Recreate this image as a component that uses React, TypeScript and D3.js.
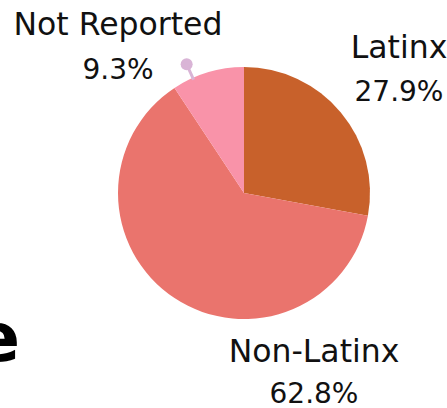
import React from "react";
import * as d3 from "d3";

const categories = ["Latinx", "Non-Latinx", "Not Reported"];
const values = [27.9, 62.8, 9.3];
const valueLabels = ["27.9%", "62.8%", "9.3%"];
const colors = ["#C8612B", "#EA746D", "#F993A9"];

const W = 447;
const H = 408;
const cx = 244;
const cy = 193;
const R = 126;

// label anchor positions (center x, baseline y of first line, baseline y of second line)
const labelPos: [number, number, number][] = [
  [399, 58, 101],
  [314, 362, 403],
  [118, 35, 79],
];

export default function App() {
  const pie = d3.pie<number>().sort(null).value((d) => d);
  const arcs = pie(values);
  const arc = d3.arc<d3.PieArcDatum<number>>().innerRadius(0).outerRadius(R);
  const font = "'DejaVu Sans', sans-serif";

  // marker near Not Reported slice
  const mAngle = (336 * Math.PI) / 180;
  const pt = (r: number): [number, number] => [Math.sin(mAngle) * r, -Math.cos(mAngle) * r];
  const [lx1, ly1] = pt(R - 2);
  const [lx2, ly2] = pt(136);
  const [mx, my] = pt(141);

  return (
    <svg
      width={W}
      height={H}
      style={{ position: "absolute", left: 0, top: 0, background: "#fff" }}
    >
      <g transform={`translate(${cx},${cy})`}>
        {arcs.map((a, i) => (
          <path key={categories[i]} d={arc(a) || ""} fill={colors[i]} />
        ))}
        <line x1={lx1} y1={ly1} x2={lx2} y2={ly2} stroke="#D9B4D6" strokeWidth={3} />
        <circle cx={mx} cy={my} r={6} fill="#D9B4D6" />
      </g>
      {categories.map((c, i) => (
        <g key={c} fontFamily={font} fill="#111" textAnchor="middle">
          <text x={labelPos[i][0]} y={labelPos[i][1]} fontSize={31.5}>{c}</text>
          <text x={labelPos[i][0]} y={labelPos[i][2]} fontSize={28}>{valueLabels[i]}</text>
        </g>
      ))}
      <text x={20} y={361} textAnchor="end" fontFamily={font} fontWeight="bold" fontSize={68} fill="#000">
        e
      </text>
    </svg>
  );
}
